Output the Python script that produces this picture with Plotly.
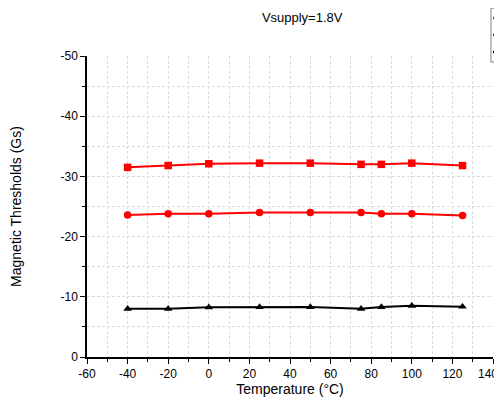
import plotly.graph_objects as go

temperature = [-40, -20, 0, 25, 50, 75, 85, 100, 125]
bop = [-31.5, -31.8, -32.1, -32.2, -32.2, -32.0, -32.0, -32.2, -31.8]
brp = [-23.6, -23.8, -23.8, -24.0, -24.0, -24.0, -23.8, -23.8, -23.5]
bhys = [-8.0, -8.0, -8.25, -8.3, -8.3, -8.0, -8.3, -8.5, -8.35]

x_tick_vals = [-60, -40, -20, 0, 20, 40, 60, 80, 100, 120, 140]
x_tick_text = ["-60", "-40", "-20", "0", "20", "40", "60", "80", "100", "120", "140"]
y_tick_vals = [0, -10, -20, -30, -40, -50]
y_tick_text = ["0", "-10", "-20", "-30", "-40", "-50"]

series = [
    ("BOP", bop, "red", "square"),
    ("BRP", brp, "red", "circle"),
    ("BHYS", bhys, "black", "triangle-up"),
]

fig = go.Figure()
for name, vals, color, sym in series:
    fig.add_trace(go.Scatter(
        x=temperature, y=vals, name=name, mode="lines+markers",
        line=dict(color=color, width=2),
        marker=dict(symbol=sym, size=7.5, color=color),
    ))

axis_common = dict(
    showline=True, linecolor="black", linewidth=1.5,
    ticks="outside", ticklen=5, tickcolor="black", tickwidth=1.2,
    showgrid=True, gridcolor="#dcdcdc", griddash="3px,2px", gridwidth=1,
    zeroline=False, tickfont=dict(size=12, color="black"),
)
minor_common = dict(ticks="outside", ticklen=3, tickcolor="black",
                    showgrid=True, gridcolor="#dcdcdc", griddash="3px,2px")

# legend box of the reference is cut off by the window edge: draw its visible part
legend_shapes = [dict(type="rect", xref="paper", yref="paper",
                      x0=0.995, x1=1.2, y0=0.98, y1=1.159,
                      line=dict(color="#808080", width=1), fillcolor="white", layer="above")]
for (name, vals, color, sym), yy in zip(series, [1.126, 1.070, 1.013]):
    legend_shapes.append(dict(type="line", xref="paper", yref="paper",
                              x0=1.0, x1=1.08, y0=yy, y1=yy,
                              line=dict(color=color, width=2.5), layer="above"))

# the last x tick label is nudged left (as in the reference) so it stays inside the window
shown_tick_text = x_tick_text[:-1] + [""]
last_label = dict(x=x_tick_vals[-1], xref="x", y=0, yref="paper", text=x_tick_text[-1],
                  showarrow=False, xanchor="center", yanchor="top", xshift=-5, yshift=-8,
                  font=dict(size=12, color="black"))

# page body has an 8px margin; the figure extends past the window on the right
fig.update_layout(
    width=600, height=391,
    margin=dict(l=79, r=115, t=48, b=42, autoexpand=False),
    paper_bgcolor="white", plot_bgcolor="white",
    font=dict(family="Liberation Sans, Arial, sans-serif", color="black"),
    title=dict(text="Vsupply=1.8V", xref="paper", x=0.53, xanchor="center",
               y=0.975, yanchor="middle", font=dict(size=13, color="black")),
    xaxis=dict(range=[-60, 140], tickvals=x_tick_vals, ticktext=shown_tick_text,
               minor=dict(dtick=10, tick0=-60, **minor_common),
               title=dict(text="Temperature (°C)", font=dict(size=14), standoff=2),
               **axis_common),
    yaxis=dict(range=[0, -50], tickvals=y_tick_vals, ticktext=y_tick_text,
               minor=dict(dtick=5, tick0=0, **minor_common),
               title=dict(text="Magnetic Thresholds (Gs)", font=dict(size=14), standoff=39),
               **axis_common),
    shapes=legend_shapes,
    annotations=[last_label],
    showlegend=False,
)

fig.write_html("out.html",
               post_script="document.body.style.overflow='hidden';"
                           "document.documentElement.style.overflow='hidden';")
